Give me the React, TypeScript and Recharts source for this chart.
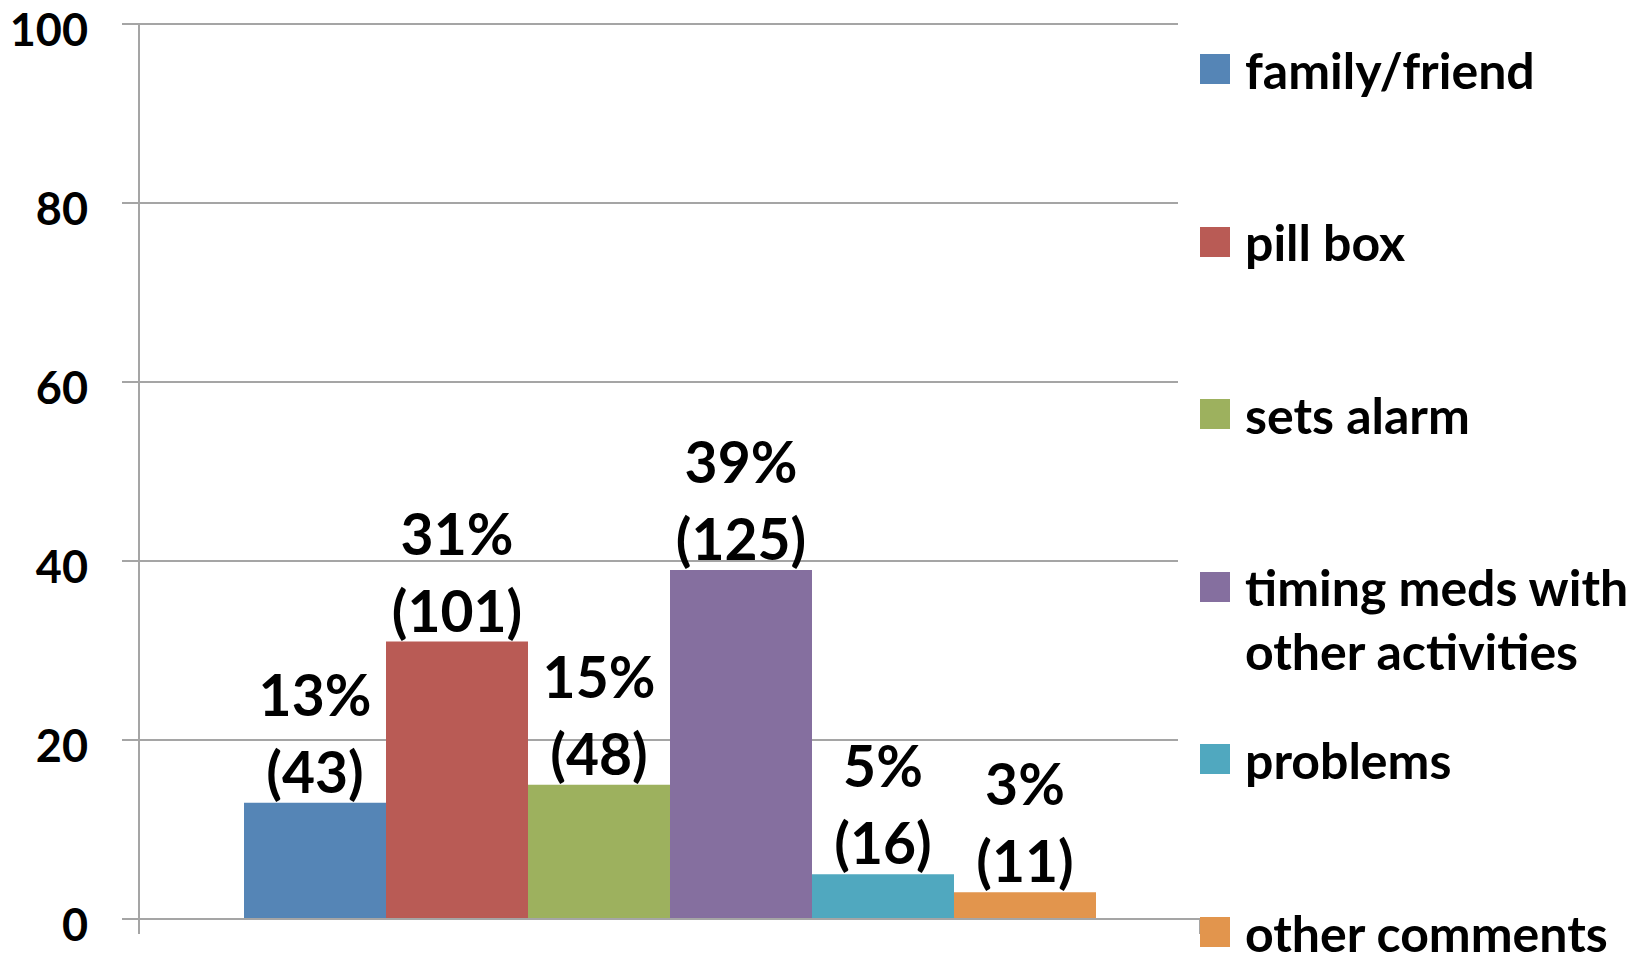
import React from "react";
import { BarChart, Bar, XAxis, YAxis, CartesianGrid, Legend } from "recharts";

// Reminder strategies reported by respondents
const strategies = [
  "family/friend",
  "pill box",
  "sets alarm",
  "timing meds with other activities",
  "problems",
  "other comments",
];
const seriesKeys = ["family", "pillBox", "alarm", "timing", "problems", "other"];
const percents = [13, 31, 15, 39, 5, 3];
const counts = [43, 101, 48, 125, 16, 11];
const barColors = ["#5585B6", "#B95B55", "#9DB15E", "#856F9F", "#50A8BF", "#E2954D"];
const yTicks = [0, 20, 40, 60, 80, 100];

const FONT = "Lato, 'Open Sans', sans-serif";
const GRID = "#A5A5A5";

// single category row, one column per strategy
const row: Record<string, number | string> = { name: "all" };
seriesKeys.forEach((k, i) => {
  row[k] = percents[i];
});
const data = [row];

const YTick = (props: any) => {
  const { x, y, payload } = props;
  return (
    <text x={x} y={y + 22} textAnchor="end" fontFamily={FONT} fontWeight={700} fontSize={45} fill="#000">
      {payload.value}
    </text>
  );
};

// small tick marks at both edges of the category band
const XTick = (props: any) => {
  const { x, y, payload } = props;
  const half = payload?.offset ?? 0;
  return (
    <g>
      <line x1={x - half} x2={x - half} y1={y} y2={y + 15} stroke={GRID} strokeWidth={2} />
      <line x1={x + half} x2={x + half} y1={y} y2={y + 15} stroke={GRID} strokeWidth={2} />
    </g>
  );
};

const makeLabel = (si: number) => (props: any) => {
  const x = Number(props.x);
  const y = Number(props.y);
  const w = Number(props.width);
  const cx = x + w / 2;
  const base = y - 10;
  return (
    <text textAnchor="middle" fontFamily={FONT} fontWeight={700} fontSize={57} fill="#000">
      <tspan x={cx} y={base - 77}>{`${props.value}%`}</tspan>
      <tspan x={cx} y={base}>{`(${counts[si]})`}</tspan>
    </text>
  );
};

const LegendBox = () => (
  <div style={{ paddingTop: 37.6, fontFamily: FONT, fontWeight: 700, fontSize: 50, lineHeight: "64px", color: "#000" }}>
    {strategies.map((s, i) => (
      <div key={s} style={{ display: "flex", alignItems: "flex-start", height: 172.6 }}>
        <div style={{ width: 30, height: 30, marginTop: 16.4, marginLeft: 22, background: barColors[i], flexShrink: 0 }} />
        <div style={{ marginLeft: 15, width: 400, whiteSpace: "normal" }}>{s}</div>
      </div>
    ))}
  </div>
);

export default function App() {
  return (
    <div style={{ width: 1639, height: 955, overflow: "hidden", background: "#fff" }}>
      <style>{`body{margin:0}`}</style>
      <BarChart
        width={1639}
        height={955}
        data={data}
        margin={{ top: 24, right: 439, left: 0, bottom: 16 }}
        barGap={0}
        barCategoryGap={105}
      >
        <CartesianGrid horizontal vertical={false} stroke={GRID} strokeWidth={2} />
        <XAxis
          dataKey="name"
          height={20}
          axisLine={{ stroke: GRID, strokeWidth: 2 }}
          tickLine={false}
          tickSize={0}
          tickMargin={0}
          tick={<XTick />}
        />
        <YAxis
          width={139}
          domain={[0, 100]}
          ticks={yTicks}
          interval={0}
          axisLine={{ stroke: GRID, strokeWidth: 2 }}
          tickLine={{ stroke: GRID, strokeWidth: 2 }}
          tickSize={17}
          tickMargin={34}
          tick={<YTick />}
        />
        <Legend
          layout="vertical"
          align="center"
          verticalAlign="middle"
          content={<LegendBox />}
          wrapperStyle={{ left: 1178, top: 0, width: 461, height: 916, background: "#fff" }}
        />
        {seriesKeys.map((k, i) => (
          <Bar key={k} dataKey={k} name={strategies[i]} fill={barColors[i]} isAnimationActive={false} label={makeLabel(i)} />
        ))}
      </BarChart>
    </div>
  );
}
